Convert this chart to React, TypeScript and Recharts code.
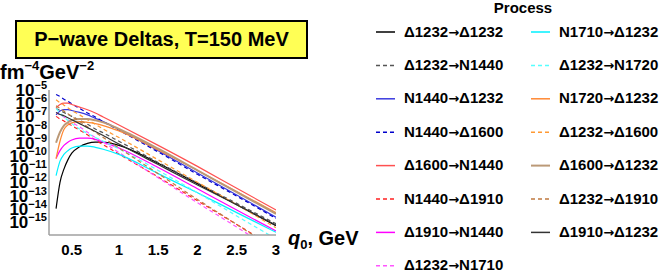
import React from "react"
import { Line, LineChart, XAxis, YAxis } from "recharts"

const q0 = [0.2, 0.25, 0.3, 0.35, 0.4, 0.5, 0.6, 0.7, 0.8, 1.0, 1.5, 2.0, 2.5, 3.0]

// rates, fm^-4 GeV^-2
const d1232ToD1232 = [1e-14, 1e-12, 1e-11, 5.0e-11, 1.6e-10, 5.0e-10, 8.9e-10, 1.1e-9, 1.1e-9, 6.3e-10, 2.8e-11, 7.9e-13, 2.0e-14, 5.0e-16]
const d1232ToN1440 = [4.0e-7, 2.8e-7, 2.0e-7, 1.4e-7, 1e-7, 5.0e-8, 2.5e-8, 1.1e-8, 5.6e-9, 1.3e-9, 3.2e-11, 8.9e-13, 2.5e-14, 7.1e-16]
const n1440ToD1232 = [1.3e-7, 2.5e-7, 3.2e-7, 3.2e-7, 2.8e-7, 2.0e-7, 1.3e-7, 7.1e-8, 4.0e-8, 1e-8, 2.5e-10, 5.0e-12, 1.1e-13, 2.2e-15]
const n1440ToD1600 = [4.5e-6, 3.2e-6, 2.0e-6, 1.4e-6, 8.9e-7, 4.0e-7, 1.8e-7, 8.9e-8, 4.0e-8, 8.9e-9, 2.0e-10, 4.0e-12, 8.9e-14, 1.8e-15]
const d1600ToN1440 = [4.5e-7, 7.9e-7, 1e-6, 1e-6, 7.9e-7, 5.0e-7, 3.2e-7, 1.8e-7, 8.9e-8, 2.2e-8, 6.3e-10, 1.6e-11, 3.5e-13, 7.9e-15]
const n1440ToD1910 = [1e-7, 6.3e-8, 4.5e-8, 2.8e-8, 2.0e-8, 8.9e-9, 4.0e-9, 1.6e-9, 7.1e-10, 1.4e-10, 2.5e-12, 4.0e-14, 6.3e-16, 1e-17]
const d1910ToN1440 = [6.3e-11, 2.5e-10, 6.3e-10, 1.1e-9, 1.6e-9, 2.2e-9, 2.2e-9, 1.8e-9, 1.1e-9, 4.0e-10, 1.3e-11, 3.2e-13, 7.9e-15, 2.0e-16]
const d1232ToN1710 = [2.0e-7, 1.3e-7, 8.9e-8, 5.6e-8, 3.5e-8, 1.6e-8, 6.3e-9, 2.5e-9, 1.1e-9, 1.8e-10, 2.2e-12, 2.8e-14, 4.0e-16, 5.0e-18]
const n1710ToD1232 = [3.2e-12, 4.0e-11, 1.3e-10, 2.5e-10, 4.0e-10, 5.6e-10, 5.6e-10, 4.5e-10, 3.2e-10, 1.3e-10, 4.5e-12, 1.6e-13, 5.0e-15, 1.6e-16]
const d1232ToN1720 = [4.0e-7, 1.8e-7, 8.9e-8, 5.0e-8, 2.8e-8, 1.1e-8, 5.0e-9, 2.5e-9, 1.3e-9, 3.5e-10, 7.9e-12, 1.6e-13, 2.8e-15, 5.0e-17]
const n1720ToD1232 = [6.3e-11, 1.3e-9, 1e-8, 2.2e-8, 3.2e-8, 4.0e-8, 3.5e-8, 2.8e-8, 2.0e-8, 7.9e-9, 2.8e-10, 7.9e-12, 2.0e-13, 5.0e-15]
const d1232ToD1600 = [1.8e-6, 1.1e-6, 7.1e-7, 4.5e-7, 2.8e-7, 1.3e-7, 5.6e-8, 2.5e-8, 1.1e-8, 2.5e-9, 5.0e-11, 1e-12, 2.0e-14, 3.5e-16]
const d1600ToD1232 = [1e-9, 6.3e-9, 2.0e-8, 3.5e-8, 5.0e-8, 6.3e-8, 6.3e-8, 5.0e-8, 3.5e-8, 1.1e-8, 3.5e-10, 7.9e-12, 1.8e-13, 4.0e-15]
const d1232ToD1910 = [6.3e-7, 4.0e-7, 2.5e-7, 1.6e-7, 1e-7, 4.0e-8, 1.6e-8, 6.3e-9, 2.5e-9, 4.0e-10, 4.5e-12, 5.0e-14, 6.3e-16, 7.1e-18]
const d1910ToD1232 = [2.0e-7, 1.4e-7, 1.1e-7, 7.9e-8, 5.6e-8, 2.8e-8, 1.4e-8, 7.1e-9, 3.5e-9, 7.9e-10, 2.2e-11, 6.3e-13, 2.0e-14, 5.6e-16]

const xTicks = [0.4, 1, 1.5, 2, 2.5, 3]
const xTickLabels = ["0.5", "1", "1.5", "2", "2.5", "3"]
const yTicks = [1e-5, 1e-6, 1e-7, 1e-8, 1e-9, 1e-10, 1e-11, 1e-12, 1e-13, 1e-14, 1e-15]

const series = [
  { key: "a", name: "Δ1232→Δ1232", values: d1232ToD1232 },
  { key: "b", name: "Δ1232→N1440", values: d1232ToN1440 },
  { key: "c", name: "N1440→Δ1232", values: n1440ToD1232 },
  { key: "d", name: "N1440→Δ1600", values: n1440ToD1600 },
  { key: "e", name: "Δ1600→N1440", values: d1600ToN1440 },
  { key: "f", name: "N1440→Δ1910", values: n1440ToD1910 },
  { key: "g", name: "Δ1910→N1440", values: d1910ToN1440 },
  { key: "h", name: "Δ1232→N1710", values: d1232ToN1710 },
  { key: "i", name: "N1710→Δ1232", values: n1710ToD1232 },
  { key: "j", name: "Δ1232→N1720", values: d1232ToN1720 },
  { key: "k", name: "N1720→Δ1232", values: n1720ToD1232 },
  { key: "l", name: "Δ1232→Δ1600", values: d1232ToD1600 },
  { key: "m", name: "Δ1600→Δ1232", values: d1600ToD1232 },
  { key: "n", name: "Δ1232→Δ1910", values: d1232ToD1910 },
  { key: "o", name: "Δ1910→Δ1232", values: d1910ToD1232 },
]

const styles: Record<string, { color: string; dash?: string; width?: number }> = {
  a: { color: "#000000" },
  b: { color: "#555555", dash: "4 3" },
  c: { color: "#3a3adf" },
  d: { color: "#0000cc", dash: "4 3" },
  e: { color: "#ff5050" },
  f: { color: "#ff2020", dash: "4 3" },
  g: { color: "#ff00ff" },
  h: { color: "#ff55ff", dash: "4 3" },
  i: { color: "#00f0ff" },
  j: { color: "#55ffff", dash: "4 3" },
  k: { color: "#ff8833" },
  l: { color: "#ff9933", dash: "4 3" },
  m: { color: "#bb9977", width: 2 },
  n: { color: "#c07a40", dash: "4 3" },
  o: { color: "#333333" },
}

const rows = q0.map((q, i) => {
  const row: Record<string, number> = { q }
  series.forEach((s) => (row[s.key] = s.values[i]))
  return row
})

const font = "'Liberation Sans', Arial, sans-serif"

function YTick({ x, y, payload }: any) {
  const exp = Math.round(Math.log10(payload.value))
  return (
    <text x={x} y={y} textAnchor="end" fontFamily={font} fontWeight="bold" fill="#000">
      <tspan dy="0.36em" fontSize={17}>10</tspan>
      <tspan dy={-7} fontSize={11}>{"−" + Math.abs(exp)}</tspan>
    </text>
  )
}

function LegendItem({ s, x, y }: { s: (typeof series)[number]; x: number; y: number }) {
  const st = styles[s.key]
  const [from, to] = s.name.split("→")
  return (
    <g>
      <line x1={x} x2={x + 19} y1={y} y2={y} stroke={st.color} strokeWidth={st.width ?? 1.5} strokeDasharray={st.dash} />
      <text x={x + 28} y={y + 4.5} fontSize={15} fontWeight="bold" fontFamily={font} fill="#000">
        <tspan>{from}</tspan>
        <tspan fontFamily="'DejaVu Sans'" fontSize={13}>→</tspan>
        <tspan>{to}</tspan>
      </text>
    </g>
  )
}

export default function App() {
  return (
    <div style={{ position: "absolute", left: 0, top: 0, width: 668, height: 272, background: "#fff" }}>
      <LineChart width={668} height={272} data={rows} margin={{ top: 90, right: 392, bottom: 0, left: 0 }}>
        <XAxis
          dataKey="q"
          type="number"
          domain={[0.11, 3]}
          allowDataOverflow
          ticks={xTicks}
          interval={0}
          tickFormatter={(v, i) => xTickLabels[i]}
          height={37}
          tickSize={0}
          tickMargin={9}
          stroke="#a0a0a0"
          strokeWidth={1.5}
          tick={{ fill: "#000", fontSize: 15, fontWeight: "bold", fontFamily: font }}
        />
        <YAxis
          scale="log"
          domain={[1e-16, 1e-5]}
          allowDataOverflow
          ticks={yTicks}
          interval={0}
          width={49}
          tickSize={0}
          tickMargin={2}
          stroke="#a0a0a0"
          strokeWidth={1.5}
          tick={<YTick />}
        />
        {series.map((s) => (
          <Line
            key={s.key}
            dataKey={s.key}
            name={s.name}
            type="monotone"
            stroke={styles[s.key].color}
            strokeWidth={styles[s.key].width ?? 1.2}
            strokeDasharray={styles[s.key].dash}
            dot={false}
            isAnimationActive={false}
          />
        ))}
      </LineChart>

      <div
        style={{
          position: "absolute",
          left: 15,
          top: 20,
          width: 289,
          height: 35,
          background: "#ffff55",
          border: "2px solid #000",
          fontFamily: font,
          fontWeight: "bold",
          fontSize: 20,
          lineHeight: "35px",
          textAlign: "center",
          whiteSpace: "nowrap",
        }}
      >
        P−wave Deltas, T=150 MeV
      </div>

      <svg width={668} height={272} style={{ position: "absolute", left: 0, top: 0, pointerEvents: "none" }}>
        <text x={0} y={79} fontFamily={font} fontWeight="bold" fontSize={20} fill="#000">
          <tspan>fm</tspan>
          <tspan dy={-9} fontSize={13}>−4</tspan>
          <tspan dy={9}>GeV</tspan>
          <tspan dy={-9} fontSize={13}>−2</tspan>
        </text>
        <text x={288} y={245} fontFamily={font} fontWeight="bold" fontSize={20} fill="#000">
          <tspan fontStyle="italic">q</tspan>
          <tspan dy={4} fontSize={13}>0</tspan>
          <tspan dy={-4}>, GeV</tspan>
        </text>
        <text x={523} y={13} textAnchor="middle" fontFamily={font} fontWeight="bold" fontSize={15} fill="#000">
          Process
        </text>
        {series.map((s, i) => (
          <LegendItem key={s.key} s={s} x={i < 8 ? 376 : 531} y={32 + (i % 8) * 33.4} />
        ))}
      </svg>
    </div>
  )
}
